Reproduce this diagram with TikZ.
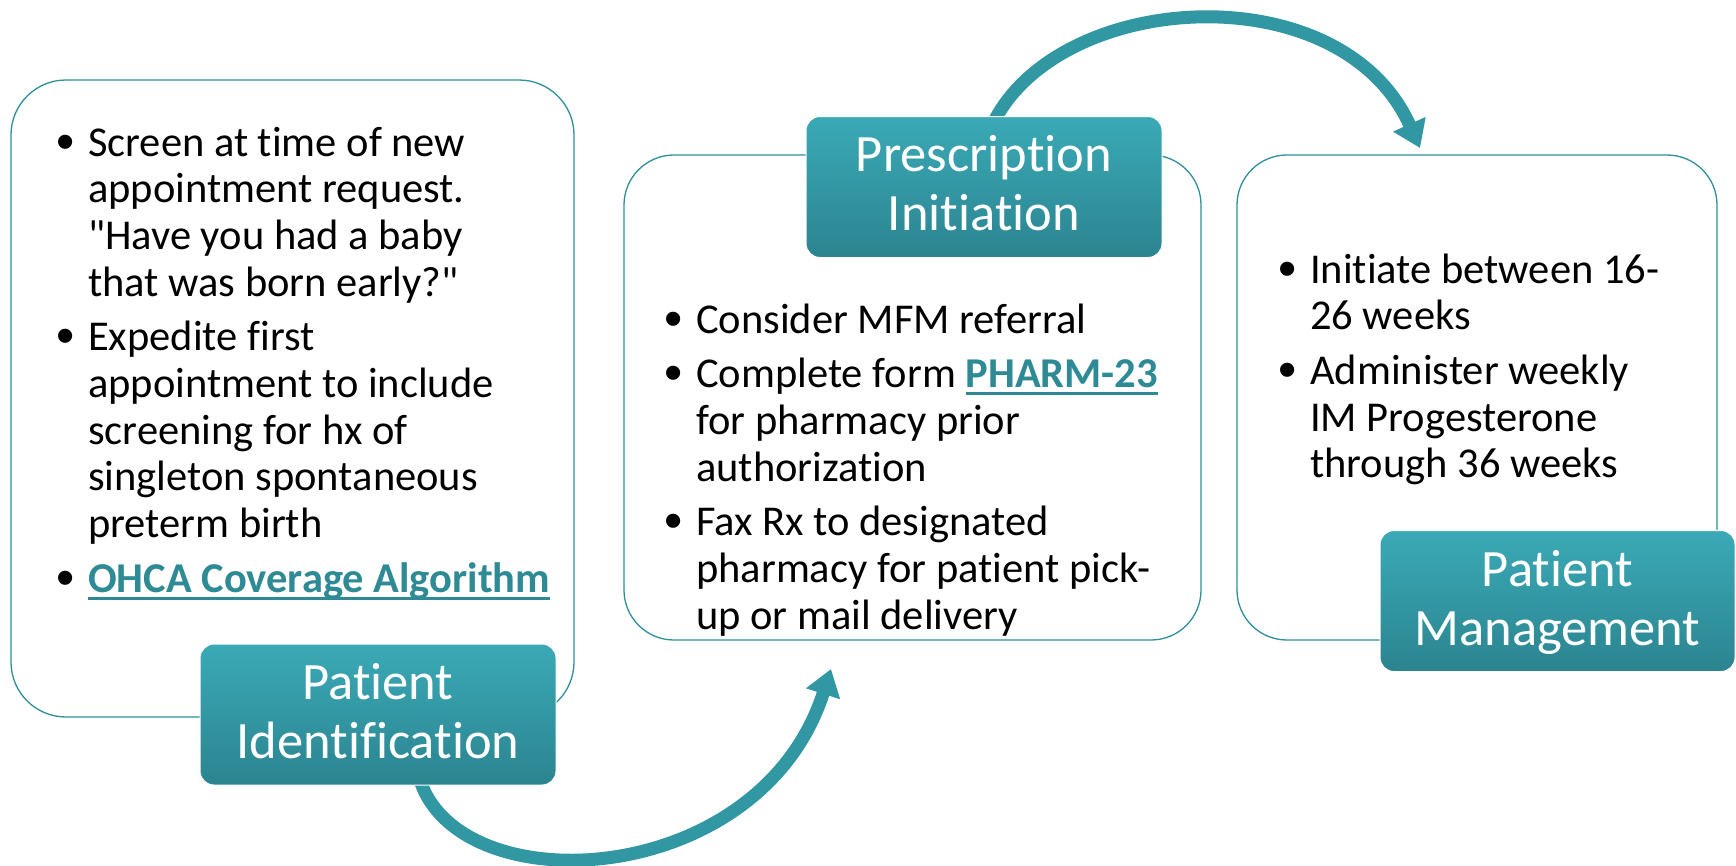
\documentclass[tikz,border=0pt]{standalone}
\usepackage{fontspec}
\setmainfont{Carlito}[Ligatures={TeXOff,NoCommon}]
\newfontfamily\bulletfont{Liberation Sans}
\usetikzlibrary{arrows.meta,calc}
\definecolor{tealline}{HTML}{2F8F9A}
\definecolor{teallight}{HTML}{3AAAB6}
\definecolor{tealdark}{HTML}{2B8490}
\definecolor{tealarrow}{HTML}{3198A3}
\definecolor{linkteal}{HTML}{2E8A94}
\newcommand\blt{\par\noindent\hangindent=27pt\hangafter=1\makebox[27pt][l]{\hspace*{-5pt}\raisebox{-3pt}{\bulletfont\fontsize{52}{52}\selectfont •}}}
\newcommand\ulink[1]{{\bfseries\color{linkteal}\setbox0\hbox{#1}\rlap{\raisebox{-7.5pt}{\rule{\wd0}{3pt}}}\box0}}
\newcommand\blist[1]{\parbox[t]{600pt}{\fontsize{42.5}{46.7}\selectfont\parskip=8pt\relax #1}}
\newcommand\labtxt[1]{\parbox[t]{350pt}{\centering\fontsize{52.5}{59}\selectfont #1}}
\tikzset{
  infobox/.style={draw=tealline, line width=1.3pt, fill=white, inner sep=0pt},
  labbox/.style={draw=white, line width=1pt, top color=teallight, bottom color=tealdark,
    rounded corners=14pt, minimum width=356pt, minimum height=141pt, inner sep=0pt},
  labtext/.style={text=white, inner sep=0pt, anchor=base},
  bodytext/.style={text=black, inner sep=0pt, anchor=base west},
  flowarrow/.style={draw=tealarrow, line width=13pt, -{Triangle[length=26pt,width=34pt]}}
}
\begin{document}
\begin{tikzpicture}[x=1pt,y=-1pt]
\useasboundingbox[fill=white] (0,0) rectangle (1736,865);
% content boxes
\node[infobox, rounded corners=55pt, minimum width=563pt, minimum height=637pt] (box1) at (292.5,398.5) {};
\node[infobox, rounded corners=50pt, minimum width=577pt, minimum height=485pt] (box2) at (912.5,397.5) {};
\node[infobox, rounded corners=50pt, minimum width=480pt, minimum height=485pt] (box3) at (1477,397.5) {};
% label boxes (positions)
\coordinate (l1c) at (378,714.5);
\coordinate (l2c) at (984,187);
\coordinate (l3c) at (1557.5,601);
% arrows
\coordinate (a1s) at ($(l1c)+(42,65.5)$);
\coordinate (a1e) at (831,669);
\coordinate (a2s) at ($(l2c)+(6,-57)$);
\coordinate (a2e) at (1420,148);
\draw[flowarrow] (a1s) .. controls (460,905) and (760,890) .. (a1e);
\draw[flowarrow] (a2s) .. controls (1050,-10) and (1340,-30) .. (a2e);
% labels
\node[labbox] (lab1) at (l1c) {};
\node[labbox] (lab2) at (l2c) {};
\node[labbox, minimum width=355pt] (lab3) at (l3c) {};
\node[labtext] (lab1t) at ($(lab1.north)+(0,56)$) {\labtxt{Patient\\Identification}};
\node[labtext] (lab2t) at ($(lab2.north)+(0,55)$) {\labtxt{Prescription\\Initiation}};
\node[labtext] (lab3t) at ($(lab3.north)+(0,56)$) {\labtxt{Patient\\Management}};
% body texts
\node[bodytext] (t1) at (61,156) {\blist{%
\blt Screen at time of new\newline appointment request.\newline "Have you had a baby\newline that was born early?"
\blt Expedite first\newline appointment to include\newline screening for hx of\newline singleton spontaneous\newline preterm birth
\blt \ulink{OHCA Coverage Algorithm}}};
\node[bodytext] (t2) at (669,333) {\blist{%
\blt Consider MFM referral
\blt Complete form \ulink{PHARM-23}\newline for pharmacy prior\newline authorization
\blt Fax Rx to designated\newline pharmacy for patient pick-\newline up or mail delivery}};
\node[bodytext] (t3) at (1283,283) {\blist{%
\blt Initiate between 16-\newline 26 weeks
\blt Administer weekly\newline IM Progesterone\newline through 36 weeks}};
\end{tikzpicture}
\end{document}
